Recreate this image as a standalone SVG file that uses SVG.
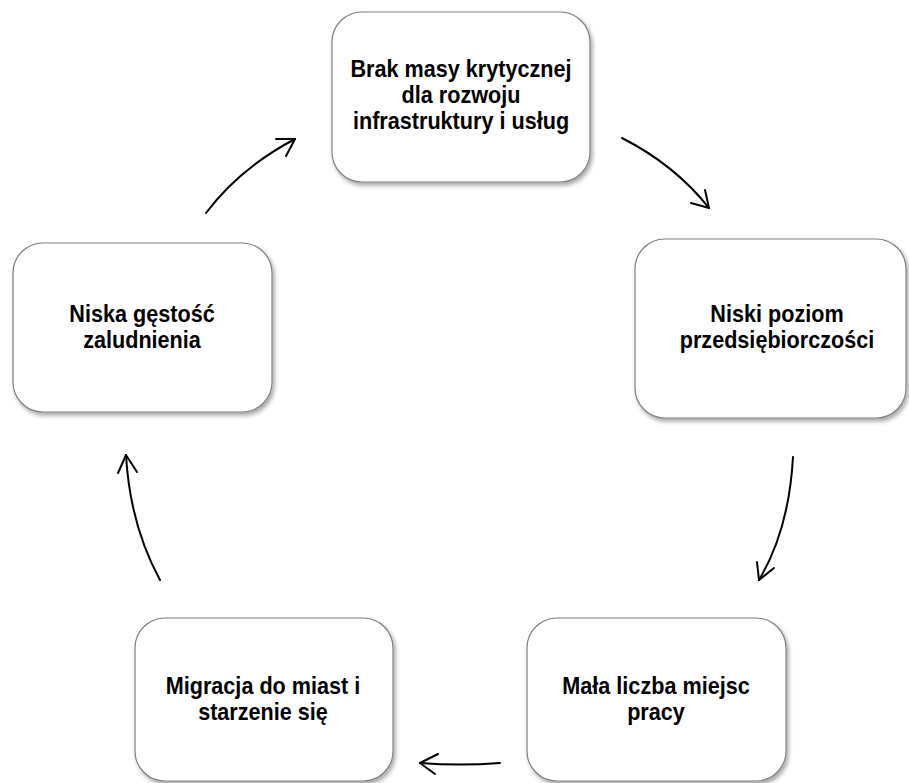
<svg xmlns="http://www.w3.org/2000/svg" width="909" height="783" viewBox="0 0 909 783">
  <style>
    .box { fill: #ffffff; stroke: #808080; stroke-width: 1.2; filter: url(#shadow); }
    .lbl { font-family: "Liberation Sans", Arial, sans-serif; font-weight: bold; font-size: 23px; fill: #000000; text-anchor: middle; }
    .conn { fill: none; stroke: #000000; stroke-width: 2; stroke-linecap: round; stroke-linejoin: round; }
  </style>
  <defs>
    <filter id="shadow" x="-10%" y="-10%" width="125%" height="130%">
      <feDropShadow dx="2" dy="3" stdDeviation="2" flood-color="#000000" flood-opacity="0.35"/>
    </filter>
  </defs>
  <rect width="909" height="783" fill="#ffffff"/>

  <g id="node-brak">
    <rect class="box" x="332" y="12" width="258" height="170" rx="30" ry="30"/>
    <text class="lbl" transform="translate(461,0) scale(0.94,1)"><tspan x="0" y="77">Brak masy krytycznej</tspan><tspan x="0" y="103">dla rozwoju</tspan><tspan x="0" y="129">infrastruktury i usług</tspan></text>
  </g>

  <g id="node-niski-poziom">
    <rect class="box" x="635" y="239" width="271" height="179" rx="30" ry="30"/>
    <text class="lbl" transform="translate(777,0) scale(0.94,1)"><tspan x="0" y="322">Niski poziom</tspan><tspan x="0" y="348">przedsiębiorczości</tspan></text>
  </g>

  <g id="node-mala-liczba">
    <rect class="box" x="527" y="618" width="259" height="163" rx="30" ry="30"/>
    <text class="lbl" transform="translate(656,0) scale(0.94,1)"><tspan x="0" y="694">Mała liczba miejsc</tspan><tspan x="0" y="720">pracy</tspan></text>
  </g>

  <g id="node-migracja">
    <rect class="box" x="135" y="618" width="258" height="163" rx="30" ry="30"/>
    <text class="lbl" transform="translate(263,0) scale(0.94,1)"><tspan x="0" y="694">Migracja do miast i</tspan><tspan x="0" y="720">starzenie się</tspan></text>
  </g>

  <g id="node-niska-gestosc">
    <rect class="box" x="13" y="243" width="259" height="169" rx="30" ry="30"/>
    <text class="lbl" transform="translate(142,0) scale(0.94,1)"><tspan x="0" y="322">Niska gęstość</tspan><tspan x="0" y="348">zaludnienia</tspan></text>
  </g>

  <g id="connectors">
    <path class="conn" d="M206,213 Q240,168 295,139"/>
    <path class="conn" d="M276,139 L295,139 L286,156"/>

    <path class="conn" d="M622,138 Q675,165 709,208"/>
    <path class="conn" d="M705,190 L709,208 L691,203"/>

    <path class="conn" d="M793,457 Q789,530 759,580"/>
    <path class="conn" d="M757,562 L759,580 L774,568"/>

    <path class="conn" d="M500,763 Q460,766 420,763"/>
    <path class="conn" d="M438,754 L420,763 L435,774"/>

    <path class="conn" d="M160,580 Q130,525 126,455"/>
    <path class="conn" d="M118,473 L126,455 L137,472"/>
  </g>
</svg>
